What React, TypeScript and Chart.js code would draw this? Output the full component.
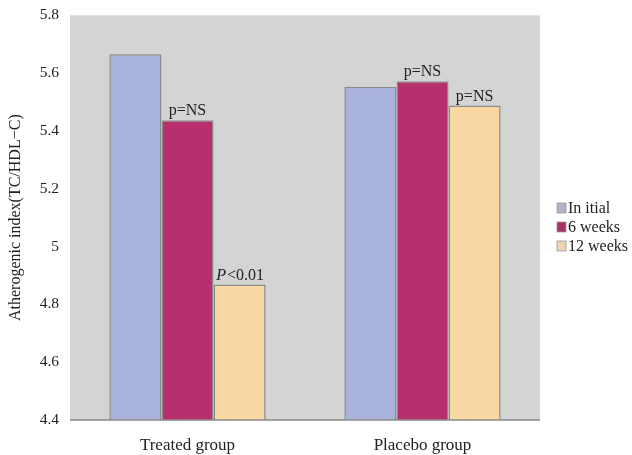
import React, { useEffect, useRef } from "react";
import { Chart, registerables } from "chart.js";

Chart.register(...registerables);

const categories = ["Treated group", "Placebo group"];
const seriesNames = ["In itial", "6 weeks", "12 weeks"];
const initialValues = [5.665, 5.553];
const week6Values = [5.437, 5.572];
const week12Values = [4.869, 5.488];
const initialNotes = ["", ""];
const week6Notes = ["p=NS", "p=NS"];
const week12Notes = ["P<0.01", "p=NS"];
const yTicks = [4.4, 4.6, 4.8, 5, 5.2, 5.4, 5.6, 5.8];

const colors = ["#aab3dc", "#b82f6d", "#f8d7a2"];
const legendColors = ["#b2b4cc", "#a8326a", "#ecd6b0"];
const FONT = "'Liberation Serif', 'DejaVu Serif', serif";

export default function App() {
  const ref = useRef<HTMLCanvasElement | null>(null);
  useEffect(() => {
    document.body.style.margin = "0";
    const canvas = ref.current;
    if (!canvas) return;
    const notes = [initialNotes, week6Notes, week12Notes];

    const bgPlugin = {
      id: "bg",
      beforeDraw(chart: any) {
        const { ctx, chartArea } = chart;
        ctx.save();
        ctx.fillStyle = "#d4d4d4";
        ctx.fillRect(chartArea.left, chartArea.top, chartArea.right - chartArea.left, chartArea.bottom - chartArea.top);
        ctx.restore();
      },
      afterDraw(chart: any) {
        const { ctx, chartArea } = chart;
        ctx.save();
        ctx.strokeStyle = "#8a8a8a";
        ctx.lineWidth = 1.5;
        ctx.beginPath();
        ctx.moveTo(chartArea.left, chartArea.bottom);
        ctx.lineTo(chartArea.right, chartArea.bottom);
        ctx.stroke();
        ctx.fillStyle = "#222";
        ctx.textBaseline = "bottom";
        notes.forEach((arr, di) => {
          const meta = chart.getDatasetMeta(di);
          arr.forEach((txt, i) => {
            if (!txt) return;
            const bar = meta.data[i];
            const x = bar.x;
            const y = bar.y - 1;
            if (txt.startsWith("P")) {
              ctx.font = `italic 16px ${FONT}`;
              const w1 = ctx.measureText("P").width;
              ctx.font = `16px ${FONT}`;
              const rest = txt.slice(1);
              const w2 = ctx.measureText(rest).width;
              const start = x - (w1 + w2) / 2;
              ctx.textAlign = "left";
              ctx.font = `italic 16px ${FONT}`;
              ctx.fillText("P", start, y);
              ctx.font = `16px ${FONT}`;
              ctx.fillText(rest, start + w1 + 1, y);
            } else {
              ctx.font = `16px ${FONT}`;
              ctx.textAlign = "center";
              ctx.fillText(txt, x, y);
            }
          });
        });
        const lx = chartArea.right + 17;
        const ly0 = 208;
        seriesNames.forEach((name, i) => {
          const y = ly0 + i * 19;
          ctx.fillStyle = legendColors[i];
          ctx.fillRect(lx, y - 5, 9, 10);
          ctx.strokeStyle = "#999";
          ctx.lineWidth = 0.8;
          ctx.strokeRect(lx, y - 5, 9, 10);
          ctx.fillStyle = "#222";
          ctx.font = `16px ${FONT}`;
          ctx.textAlign = "left";
          ctx.textBaseline = "middle";
          ctx.fillText(name, lx + 11, y + 1);
        });
        ctx.restore();
      },
    };

    const chart = new Chart(canvas, {
      type: "bar",
      data: {
        labels: categories,
        datasets: [initialValues, week6Values, week12Values].map((d, i) => ({
          label: seriesNames[i],
          data: d,
          backgroundColor: colors[i],
          borderColor: "#8c8c8c",
          borderWidth: 1.5,
          borderSkipped: "bottom" as const,
          barPercentage: 1,
          categoryPercentage: 0.665,
        })),
      },
      options: {
        animation: false,
        responsive: false,
        maintainAspectRatio: false,
        layout: { padding: { top: 14, right: 92, left: 0, bottom: 0 } },
        plugins: { legend: { display: false }, tooltip: { enabled: false } },
        scales: {
          x: {
            grid: { display: false, drawTicks: false },
            border: { display: false },
            ticks: { color: "#222", font: { family: FONT, size: 17 }, padding: 15 },
            afterFit(scale: any) {
              scale.height = 35;
            },
          },
          y: {
            min: 4.4,
            max: 5.8,
            afterBuildTicks(scale: any) {
              scale.ticks = yTicks.map((v) => ({ value: v }));
            },
            grid: { display: false, drawOnChartArea: false, drawTicks: true, tickLength: 5, color: "#c8c8c8" },
            border: { display: false },
            ticks: {
              color: "#222",
              font: { family: FONT, size: 15.5 },
              padding: 6,
              callback: (v: any) => String(Math.round(Number(v) * 10) / 10),
            },
            title: {
              display: true,
              text: "Atherogenic index(TC/HDL−C)",
              color: "#222",
              font: { family: FONT, size: 16 },
              padding: { top: 6, bottom: 4 },
            },
            afterFit(scale: any) {
              scale.width = 70;
            },
          },
        },
      },
      plugins: [bgPlugin],
    });
    return () => chart.destroy();
  }, []);
  return (
    <div style={{ width: 632, height: 455 }}>
      <canvas ref={ref} width={632} height={455} style={{ display: "block" }} />
    </div>
  );
}
